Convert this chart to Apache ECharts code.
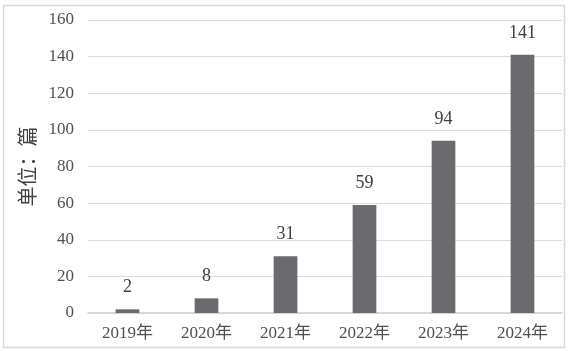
<!DOCTYPE html>
<html><head><meta charset="utf-8">
<script src="https://cdn.jsdelivr.net/npm/echarts@6/dist/echarts.min.js"></script>
<style>html,body{margin:0;padding:0;background:#fff}#c{width:570px;height:351px}</style>
</head><body><div id="c"></div>
<script>
const categories = ['2019年','2020年','2021年','2022年','2023年','2024年'];
const values = [2, 8, 31, 59, 94, 141];
const yTicks = [0, 20, 40, 60, 80, 100, 120, 140, 160];
const yName = '单位：篇';

const fontFam = "'Liberation Serif','Noto Sans CJK SC',serif";
const chart = echarts.init(document.getElementById('c'));
chart.setOption({
  animation: false,
  backgroundColor: '#fff',
  graphic: [{type:'rect', shape:{x:3.5,y:5.5,width:561,height:342}, style:{fill:'none', stroke:'#d9d9d9', lineWidth:1.5}, silent:true}],
  grid: {left: 88, right: 8, top: 20, bottom: 38},
  xAxis: {
    type: 'category', data: categories,
    axisLine: {lineStyle: {color: '#d0d0d0', width: 1.5}},
    axisTick: {show: false},
    axisLabel: {color: '#505050', fontSize: 17, fontFamily: fontFam, margin: 12}
  },
  yAxis: {
    type: 'value', min: yTicks[0], max: yTicks[yTicks.length-1], interval: 20,
    name: yName, nameLocation: 'middle', nameRotate: 90, nameGap: 48,
    nameTextStyle: {color: '#404040', fontSize: 20, fontFamily: "'Noto Sans CJK SC',sans-serif"},
    axisLine: {show: false}, axisTick: {show: false},
    axisLabel: {color: '#505050', fontSize: 17, fontFamily: fontFam, margin: 14},
    splitLine: {lineStyle: {color: '#dcdcdc', width: 1}}
  },
  series: [{
    type: 'bar', data: values, barWidth: '30%',
    itemStyle: {color: '#6b6b6e'},
    label: {show: true, position: 'top', distance: 13, color: '#404040', fontSize: 18, fontFamily: fontFam}
  }]
});
</script></body></html>
